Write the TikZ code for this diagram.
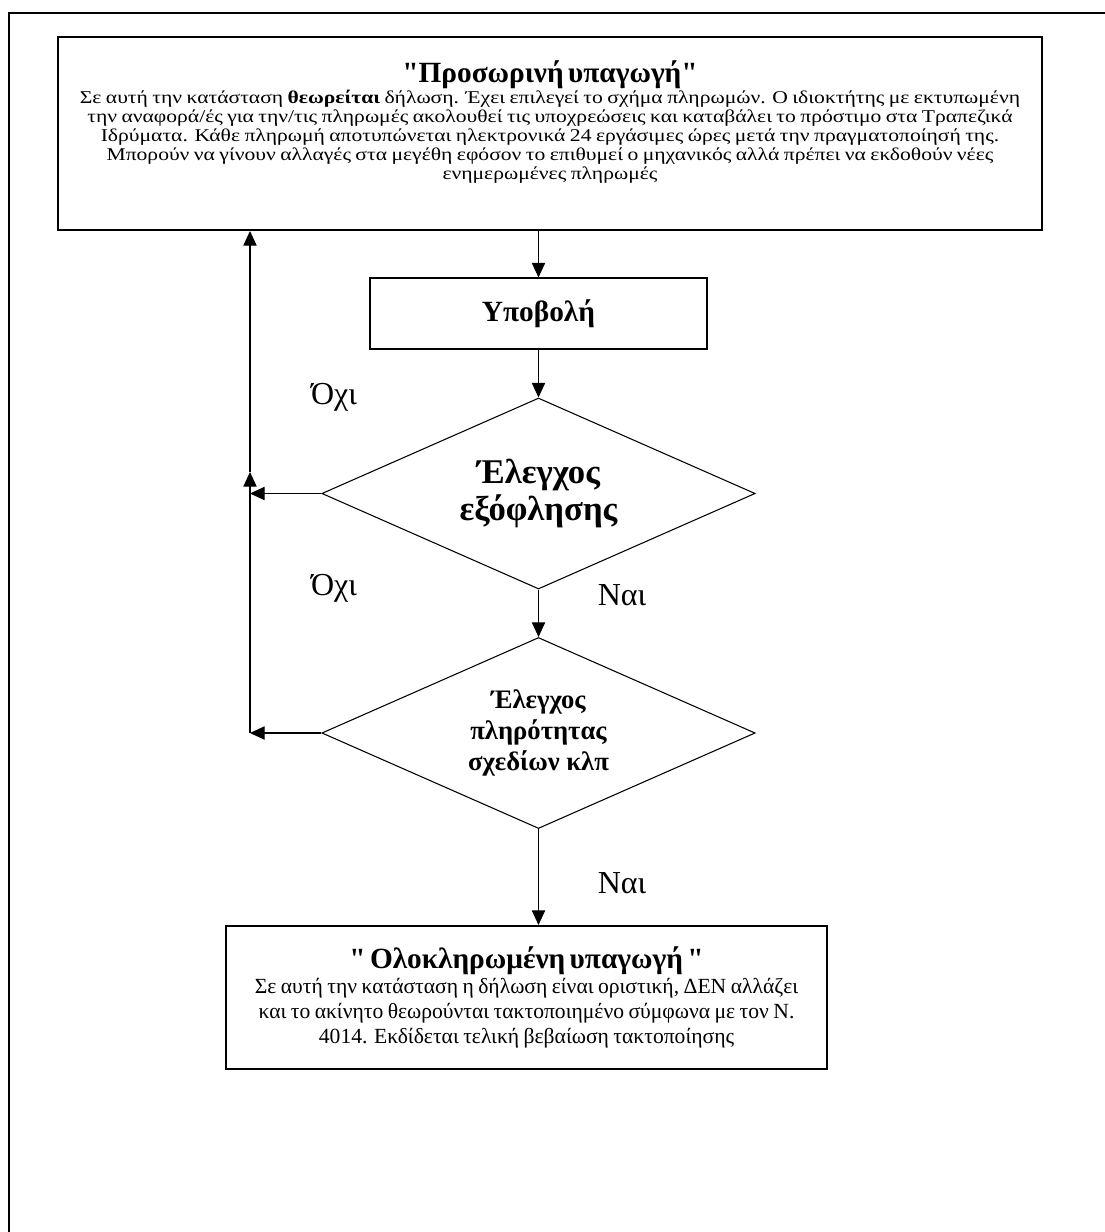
\documentclass[tikz,border=0pt]{standalone}
\usepackage{fontspec}
\setmainfont{Liberation Serif}[Ligatures=TeXOff]
\newfontfamily\widefont{Liberation Serif}[Ligatures=TeXOff,FakeStretch=1.2]
\usetikzlibrary{arrows.meta,shapes.geometric}

\begin{document}
\begin{tikzpicture}[x=0.75pt,y=-0.75pt,->,>={Triangle[length=11pt,width=10pt]},thick,
    box/.style={shape=rectangle,draw=black,align=center,inner sep=0pt},
    check/.style={shape=diamond,draw=black,aspect=2.27,align=center,inner sep=0pt,
        minimum width=325pt,minimum height=143.25pt},
    answer/.style={font=\fontsize{24}{28}\selectfont}]
                \useasboundingbox (0,0) rectangle (1105,1232);
                \draw[-,line width=1.5pt] (9,1232) -- (9,13) -- (1105,13);
                \node[box,line width=1.5pt,minimum width=738pt,minimum height=144.75pt](top)at(550, 133.5){};
                \node[align=center,inner sep=0pt,text width=736pt](toptext)at(550, 122){%
                    {\fontsize{22}{26}\selectfont\bfseries "Προσωρινή υπαγωγή"\par}
                    \vspace{2pt}
                    {\widefont\fontsize{13.5}{14.25}\selectfont\lineskiplimit=-20pt Σε αυτή την κατάσταση \textbf{θεωρείται} δήλωση. Έχει επιλεγεί το σχήμα πληρωμών. Ο ιδιοκτήτης με εκτυπωμένη\\
                    την αναφορά/ές για την/τις πληρωμές ακολουθεί τις υποχρεώσεις και καταβάλει το πρόστιμο στα Τραπεζικά\\
                    Ιδρύματα. Κάθε πληρωμή αποτυπώνεται ηλεκτρονικά 24 εργάσιμες ώρες μετά την πραγματοποίησή της.\\
                    Μπορούν να γίνουν αλλαγές στα μεγέθη εφόσον το επιθυμεί ο μηχανικός αλλά πρέπει να εκδοθούν νέες\\
                    ενημερωμένες πληρωμές\par}};
                \node[box,minimum width=252.75pt,minimum height=53.25pt,font=\fontsize{22}{25}\selectfont\bfseries](submit)at(538.5, 313.5){Υποβολή};
                \node[check,font=\fontsize{26}{27.5}\selectfont\bfseries](check1)at(538.5, 493.5){Έλεγχος\\εξόφλησης};
                \node[check,font=\fontsize{20}{23}\selectfont\bfseries](check2)at(538.5, 733){Έλεγχος\\πληρότητας\\σχεδίων κλπ};
                \node[box,line width=1.5pt,minimum width=450.75pt,minimum height=107.25pt,text width=448pt](final)at(526.5, 997.5){%
                    {\fontsize{22}{26}\selectfont\bfseries "\ Ολοκληρωμένη υπαγωγή\ "\par}
                    {\fontsize{16.2}{18.75}\selectfont Σε αυτή την κατάσταση η δήλωση είναι οριστική, ΔΕΝ αλλάζει\\
                    και το ακίνητο θεωρούνται τακτοποιημένο σύμφωνα με τον Ν.\\
                    4014. Εκδίδεται τελική βεβαίωση τακτοποίησης\par}};
                \node[answer](no1)at(334, 397){Όχι};
                \node[answer](no2)at(334, 588){Όχι};
                \node[answer](yes1)at(622, 595){Ναι};
                \node[answer](yes2)at(622, 883){Ναι};
                \coordinate (join1) at (250, 493.5);
                \coordinate (join2) at (250, 733);
                \coordinate (tip1) at (250, 472);
                \path (top.south -| submit) edge (submit)
                (submit) edge (check1)
                (check1) edge (check2)
                (check2.south) edge (check2.south |- final.north)
                (check1) edge (join1)
                (check2) edge (join2)
                (join2) edge (tip1)
                (tip1) edge (top.south -| tip1);
            \end{tikzpicture}
\end{document}
